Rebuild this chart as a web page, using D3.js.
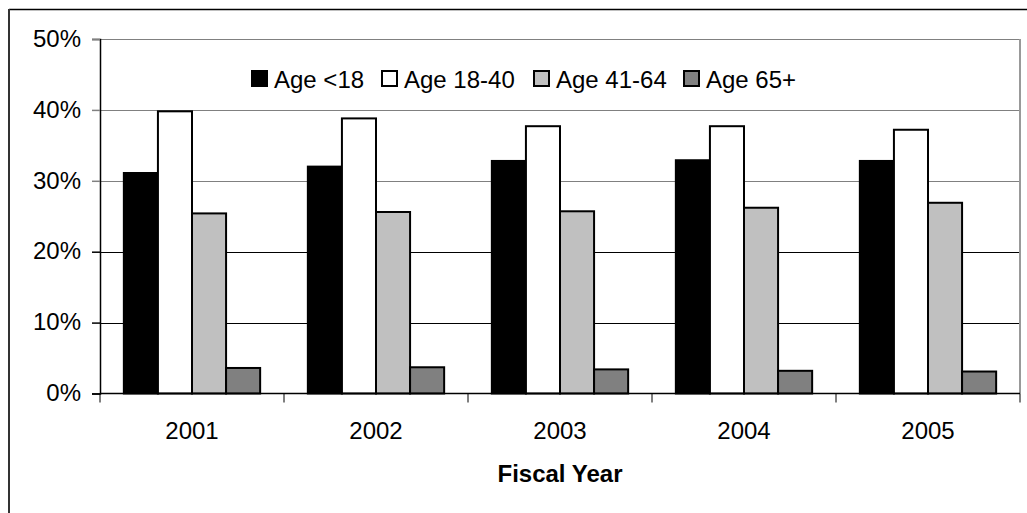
<!DOCTYPE html>
<html>
<head>
<meta charset="utf-8">
<script src="https://cdn.jsdelivr.net/npm/d3@7"></script>
<style>
  html, body { margin: 0; padding: 0; background: #fff; }
  svg { display: block; font-family: "Liberation Sans", Arial, sans-serif; }
</style>
</head>
<body>
<svg id="chart" width="1027" height="513"></svg>
<script>
// Share of clients by age group, per fiscal year (percent)
const years = ["2001", "2002", "2003", "2004", "2005"];
const seriesNames = ["Age <18", "Age 18-40", "Age 41-64", "Age 65+"];
const under18 = [31.1, 32.0, 32.8, 32.9, 32.8];
const age18to40 = [39.8, 38.8, 37.7, 37.7, 37.2];
const age41to64 = [25.4, 25.6, 25.7, 26.2, 26.9];
const age65plus = [3.6, 3.7, 3.4, 3.2, 3.1];
const yTicks = [0, 10, 20, 30, 40, 50];
const fills = ["#000000", "#ffffff", "#c0c0c0", "#808080"];

const seriesValues = [under18, age18to40, age41to64, age65plus];

const svg = d3.select("#chart");
const plot = { left: 100, right: 1020, top: 39, bottom: 393.5 };

// outer chart frame (left and top edges)
svg.append("line").attr("x1", 9).attr("x2", 1027).attr("y1", 9.5).attr("y2", 9.5)
  .attr("stroke", "#000").attr("stroke-width", 1.5);
svg.append("line").attr("x1", 9).attr("x2", 9).attr("y1", 9).attr("y2", 513)
  .attr("stroke", "#333").attr("stroke-width", 2);

const x = d3.scaleBand().domain(years).range([plot.left, plot.right]).paddingInner(0).paddingOuter(0);
const xInner = d3.scaleBand().domain(seriesNames).range([0, x.bandwidth()]).paddingInner(0).paddingOuter(0.70);
const y = d3.scaleLinear().domain([0, 50]).range([plot.bottom, plot.top]);

// horizontal gridlines
svg.append("g").selectAll("line").data(yTicks.filter(t => t > 0)).join("line")
  .attr("x1", plot.left).attr("x2", plot.right)
  .attr("y1", d => Math.round(y(d)) + 0.5).attr("y2", d => Math.round(y(d)) + 0.5)
  .attr("stroke", d => d >= 30 ? "#808080" : "#000").attr("stroke-width", 1);

// right border of the plot area
svg.append("line").attr("x1", plot.right).attr("x2", plot.right)
  .attr("y1", y(50)).attr("y2", plot.bottom)
  .attr("stroke", "#999").attr("stroke-width", 2);

// bars
const groups = svg.append("g").selectAll("g").data(years).join("g")
  .attr("transform", d => `translate(${x(d)},0)`);
groups.selectAll("rect")
  .data((yr, i) => seriesNames.map((s, k) => ({ s, k, v: seriesValues[k][i] })))
  .join("rect")
  .attr("x", d => xInner(d.s))
  .attr("width", xInner.bandwidth())
  .attr("y", d => y(d.v))
  .attr("height", d => plot.bottom - y(d.v))
  .attr("fill", d => fills[d.k])
  .attr("stroke", "#000").attr("stroke-width", 2);

// y axis
const yAxis = svg.append("g").attr("transform", `translate(${plot.left},0)`)
  .call(d3.axisLeft(y).tickValues(yTicks).tickFormat(d => d + "%").tickSize(8).tickPadding(11));
yAxis.select(".domain").attr("stroke", "#000").attr("stroke-width", 1.5);
yAxis.selectAll(".tick line").attr("stroke", d => d >= 30 ? "#808080" : "#000").attr("stroke-width", 1.5);
yAxis.selectAll(".tick text").attr("font-size", 24).attr("fill", "#000")
  .attr("font-family", "Liberation Sans, Arial, sans-serif").attr("dy", "0.30em");

// x axis: baseline with ticks between categories
const xAxisG = svg.append("g");
xAxisG.append("line").attr("x1", plot.left).attr("x2", plot.right)
  .attr("y1", plot.bottom).attr("y2", plot.bottom).attr("stroke", "#000").attr("stroke-width", 1.5);
const bounds = years.map(d => x(d)).concat([x(years[years.length - 1]) + x.bandwidth()]);
xAxisG.selectAll("line.tk").data(bounds).join("line").attr("class", "tk")
  .attr("x1", d => d).attr("x2", d => d)
  .attr("y1", plot.bottom).attr("y2", plot.bottom + 9)
  .attr("stroke", "#000").attr("stroke-width", 1);
xAxisG.selectAll("text").data(years).join("text")
  .attr("x", d => x(d) + x.bandwidth() / 2).attr("y", 439)
  .attr("text-anchor", "middle").attr("font-size", 24).attr("fill", "#000").text(d => d);

// axis title
svg.append("text").attr("x", (plot.left + plot.right) / 2).attr("y", 482)
  .attr("text-anchor", "middle").attr("font-size", 24).attr("font-weight", "bold")
  .attr("fill", "#000").text("Fiscal Year");

// legend
const legendX = [251, 381, 533, 683];
const legend = svg.append("g").selectAll("g").data(seriesNames).join("g")
  .attr("transform", (d, i) => `translate(${legendX[i]},70)`);
legend.append("rect").attr("x", 1).attr("y", 1).attr("width", 15).attr("height", 15)
  .attr("fill", (d, i) => fills[i]).attr("stroke", "#000").attr("stroke-width", 2);
legend.append("text").attr("x", 23).attr("y", 17.5).attr("font-size", 24).attr("fill", "#000")
  .text(d => d);
</script>
</body>
</html>
